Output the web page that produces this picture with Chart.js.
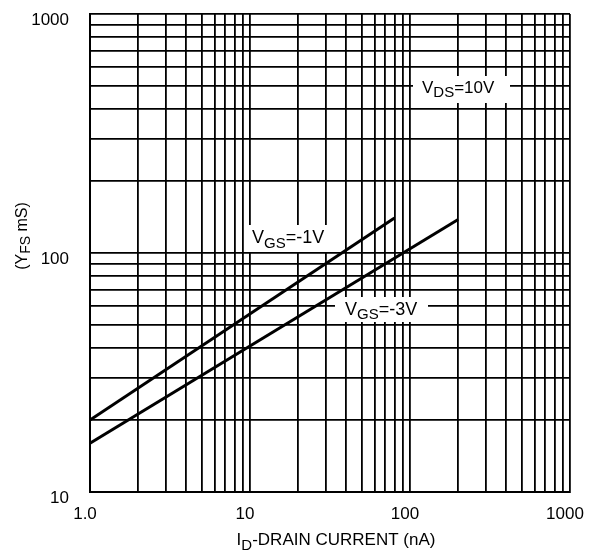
<!DOCTYPE html>
<html>
<head>
<meta charset="utf-8">
<script src="https://cdn.jsdelivr.net/npm/chart.js@4"></script>
<style>
  html, body { margin: 0; padding: 0; background: #fff; }
  canvas { display: block; }
</style>
</head>
<body>
<canvas id="c" width="589" height="553"></canvas>
<script>
// ---- data ----
const vgs1X = [1, 80];
const vgs1Y = [20, 140];
const vgs3X = [1, 200];
const vgs3Y = [16, 138];

const xDecades = [1, 10, 100, 1000];
const yDecades = [10, 100, 1000];
const xTickLabels = ['1.0', '10', '100', '1000'];
const yTickLabels = ['10', '100', '1000'];

// gridline values (1..9 per decade)
function gridValues(decades) {
  const out = [];
  for (let d = 0; d < decades.length - 1; d++) {
    for (let m = 1; m <= 9; m++) out.push(decades[d] * m);
  }
  out.push(decades[decades.length - 1]);
  return out;
}
const xGrid = gridValues(xDecades);
const yGrid = gridValues(yDecades);

const FONT = "'Liberation Sans', Arial, Helvetica, sans-serif";

function drawParts(ctx, parts, x, y, align) {
  let total = 0;
  parts.forEach(p => { ctx.font = p[1] + 'px ' + FONT; total += ctx.measureText(p[0]).width; });
  let cx = align === 'center' ? x - total / 2 : x;
  ctx.textAlign = 'left';
  ctx.textBaseline = 'alphabetic';
  parts.forEach(p => {
    ctx.font = p[1] + 'px ' + FONT;
    ctx.fillText(p[0], cx, y + p[2]);
    cx += ctx.measureText(p[0]).width;
  });
  return total;
}

const notes = [
  { parts: [['V', 18, 0], ['GS', 15, 5], ['=-1V', 18, 0]], x: 252, y: 243, box: [245, 225, 90, 27] },
  { parts: [['V', 18, 0], ['GS', 15, 4], ['=-3V', 18, 0]], x: 345, y: 315, box: [335, 297, 93, 25] },
  { parts: [['V', 17, 0], ['DS', 15, 4], ['=10V', 17, 0]], x: 422, y: 93, box: [413, 76, 97, 27] }
];

const annot = {
  id: 'annot',
  beforeDatasetsDraw(chart) {
    const ctx = chart.ctx;
    ctx.save();
    notes.forEach(n => {
      ctx.fillStyle = '#fff';
      ctx.fillRect(n.box[0], n.box[1], n.box[2], n.box[3]);
      ctx.fillStyle = '#000';
      drawParts(ctx, n.parts, n.x, n.y, 'left');
    });
    ctx.restore();
  },
  afterDraw(chart) {
    const ctx = chart.ctx;
    ctx.save();
    ctx.fillStyle = '#000';
    drawParts(ctx, [['I', 17, 0], ['D', 15, 5], ['-DRAIN CURRENT (nA)', 17, 0]], 336, 545, 'center');
    ctx.translate(27, 236);
    ctx.rotate(-Math.PI / 2);
    drawParts(ctx, [['(Y', 16, 0], ['FS', 14, 3], [' mS)', 16, 0]], 0, 0, 'center');
    ctx.restore();
  }
};

function pts(xs, ys) { return xs.map((x, i) => ({ x: x, y: ys[i] })); }

new Chart(document.getElementById('c'), {
  type: 'line',
  data: {
    datasets: [
      { data: pts(vgs1X, vgs1Y), borderColor: '#000', borderWidth: 3, pointRadius: 0, fill: false, tension: 0 },
      { data: pts(vgs3X, vgs3Y), borderColor: '#000', borderWidth: 3, pointRadius: 0, fill: false, tension: 0 }
    ]
  },
  options: {
    responsive: false,
    animation: false,
    devicePixelRatio: 1,
    layout: { padding: { top: 14, right: 19, left: 0, bottom: 0 } },
    plugins: { legend: { display: false }, tooltip: { enabled: false } },
    scales: {
      x: {
        type: 'logarithmic',
        min: 1, max: 1000,
        afterBuildTicks: s => { s.ticks = xGrid.map(v => ({ value: v })); },
        afterFit: s => { s.height = 61; s.paddingLeft = 0; s.paddingRight = 0; },
        grid: { color: '#000', lineWidth: 1.8, drawTicks: false },
        border: { color: '#000', width: 2 },
        ticks: {
          autoSkip: false, maxRotation: 0, minRotation: 0,
          padding: 12, labelOffset: -5,
          color: '#000', font: { family: FONT, size: 17 },
          callback: v => { const i = xDecades.indexOf(v); return i >= 0 ? xTickLabels[i] : ''; }
        }
      },
      y: {
        type: 'logarithmic',
        min: 10, max: 1000,
        afterBuildTicks: s => { s.ticks = yGrid.map(v => ({ value: v })); },
        afterFit: s => { s.width = 90; s.paddingTop = 0; s.paddingBottom = 0; },
        grid: { color: '#000', lineWidth: 1.8, drawTicks: false },
        border: { color: '#000', width: 2 },
        ticks: {
          autoSkip: false,
          padding: 21, labelOffset: 6,
          color: '#000', font: { family: FONT, size: 17 },
          callback: v => { const i = yDecades.indexOf(v); return i >= 0 ? yTickLabels[i] : ''; }
        }
      }
    }
  },
  plugins: [annot]
});
</script>
</body>
</html>
